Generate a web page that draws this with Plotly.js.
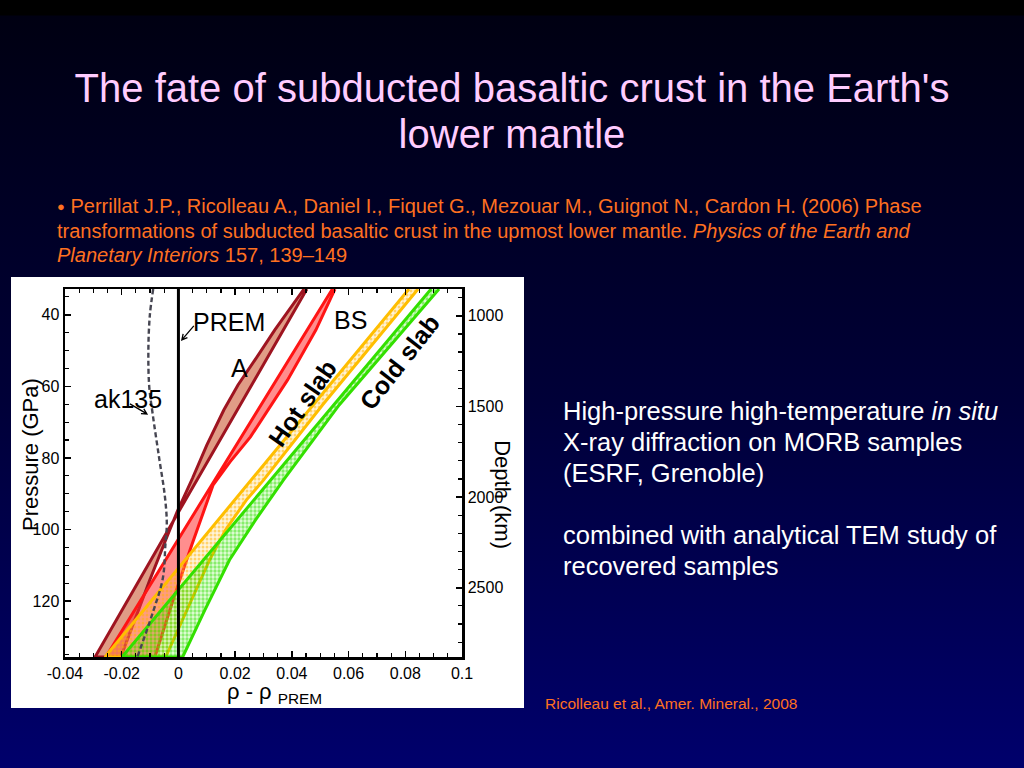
<!DOCTYPE html>
<html>
<head>
<meta charset="utf-8">
<script src="https://cdn.plot.ly/plotly-3.0.1.min.js"></script>
<style>
html,body{margin:0;padding:0;width:1024px;height:768px;overflow:hidden;}
body{position:relative;font-family:"Liberation Sans",Arial,sans-serif;
 background:linear-gradient(to bottom,#000000 0px,#000000 15px,#000012 16px,#000038 400px,#00006c 768px);}
#title{position:absolute;left:0;top:65px;width:1024px;text-align:center;color:#ffccff;font-size:40px;line-height:46px;}
#ref{position:absolute;left:57px;top:194px;color:#ff7020;font-size:20px;line-height:24px;white-space:nowrap;}
#ref .b{font-size:13px;vertical-align:2px;}
#panel{position:absolute;left:11px;top:277px;width:513px;height:431px;background:#ffffff;}
#side{position:absolute;left:563px;top:396px;color:#ffffff;font-size:25.5px;line-height:31px;white-space:nowrap;}
#credit{position:absolute;left:545px;top:695px;color:#ff7020;font-size:15.5px;line-height:18px;white-space:nowrap;}
</style>
</head>
<body>
<div id="title">The fate of subducted basaltic crust in the Earth's<br>lower mantle</div>
<div id="ref"><span class="b">&#9679;</span> Perrillat J.P., Ricolleau A., Daniel I., Fiquet G., Mezouar M., Guignot N., Cardon H. (2006) Phase<br>transformations of subducted basaltic crust in the upmost lower mantle. <i>Physics of the Earth and</i><br><i>Planetary Interiors</i> 157, 139&#8211;149</div>
<div id="panel"></div>
<div id="side">High-pressure high-temperature <i>in situ</i><br>X-ray diffraction on MORB samples<br>(ESRF, Grenoble)<br>&nbsp;<br>combined with analytical TEM study of<br>recovered samples</div>
<div id="credit">Ricolleau et al., Amer. Mineral., 2008</div>
<script>
// ---- axis ticks ----
const xTickVals = [-0.04, -0.02, 0, 0.02, 0.04, 0.06, 0.08, 0.1];
const xTickText = ["-0.04", "-0.02", "0", "0.02", "0.04", "0.06", "0.08", "0.1"];
const pressureTicks = [40, 60, 80, 100, 120];
const depthTicks = [1000, 1500, 2000, 2500];

// ---- assemblage A (two bounding curves: pressure GPa, rho - rhoPREM) ----
const aEdge1P = [32.8, 135.6];
const aEdge1X = [0.0453, -0.0294];
const aEdge2P = [32.8, 44.2, 52.6, 59.6, 66.6, 76.4, 85.6, 95.1, 102.9, 114.1, 135.6];
const aEdge2X = [0.0443, 0.0340, 0.0270, 0.0210, 0.0160, 0.0100, 0.0050, -0.0005, -0.0045, -0.0101, -0.0203];

// ---- assemblage BS ----
const bsEdge1P = [32.8, 135.6];
const bsEdge1X = [0.0543, -0.0256];
const bsEdge2P = [32.8, 44.2, 58.2, 74.1, 81.1, 87.6, 104.3, 118.3, 135.6];
const bsEdge2X = [0.0552, 0.0485, 0.0385, 0.0254, 0.0182, 0.0122, 0.0047, -0.0013, -0.0083];

// ---- hot slab ----
const hotEdge1P = [32.8, 135.6];
const hotEdge1X = [0.0813, -0.0259];
const hotEdge2P = [32.8, 65.2, 76.9, 86.2, 91.7, 100.1, 108.5, 122.5, 135.6];
const hotEdge2X = [0.0845, 0.0508, 0.0392, 0.0300, 0.0240, 0.0166, 0.0110, 0.0029, -0.0045];

// ---- cold slab ----
const coldEdge1P = [32.8, 135.6];
const coldEdge1X = [0.0891, -0.0199];
const coldEdge2P = [32.8, 65.2, 86.2, 97.3, 108.5, 122.5, 135.6];
const coldEdge2X = [0.0919, 0.0567, 0.0370, 0.0272, 0.0180, 0.0093, 0.0015];

// ---- ak135 reference model ----
const ak135P = [32.8, 40.3, 50.0, 60.0, 67.6, 80.0, 90.6, 98.3, 104.3, 113.6, 123.1, 135.6];
const ak135X = [-0.0089, -0.0101, -0.0106, -0.0103, -0.0091, -0.0068, -0.0048, -0.0041, -0.0046, -0.0055, -0.0090, -0.0145];

// ---- PREM ----
const premP = [32.8, 135.6];
const premX = [0, 0];

const X_RANGE = [-0.04, 0.1];
const P_RANGE = [135.6, 32.8];
const PLOT_W = 397, PLOT_H = 368;

function band(p1, x1, p2, x2, lineColor, fillColor, pattern) {
  const t = {
    type: 'scatter', mode: 'lines',
    x: x1.concat(x2.slice().reverse()),
    y: p1.concat(p2.slice().reverse()),
    fill: 'toself', fillcolor: fillColor,
    line: {color: lineColor, width: 3},
    hoverinfo: 'skip', showlegend: false
  };
  if (pattern) t.fillpattern = pattern;
  return t;
}

// small arrow (tail offset given in screen pixels from the head)
function arrowShape(hx, hp, dxPx, dyPx) {
  const sx = (X_RANGE[1] - X_RANGE[0]) / PLOT_W;
  const sp = (P_RANGE[0] - P_RANGE[1]) / PLOT_H;
  const len = Math.hypot(dxPx, dyPx);
  const ux = dxPx / len, uy = dyPx / len;
  const hl = 6, a = 28 * Math.PI / 180;
  const r1 = [ux * Math.cos(a) - uy * Math.sin(a), ux * Math.sin(a) + uy * Math.cos(a)];
  const r2 = [ux * Math.cos(-a) - uy * Math.sin(-a), ux * Math.sin(-a) + uy * Math.cos(-a)];
  const tx = hx + dxPx * sx, tp = hp + dyPx * sp;
  const h1x = hx + r1[0] * hl * sx, h1p = hp + r1[1] * hl * sp;
  const h2x = hx + r2[0] * hl * sx, h2p = hp + r2[1] * hl * sp;
  return {
    type: 'path', xref: 'x', yref: 'y', layer: 'above',
    path: `M ${tx},${tp} L ${hx},${hp} M ${h1x},${h1p} L ${hx},${hp} L ${h2x},${h2p}`,
    line: {color: '#000', width: 1.3}
  };
}

const traces = [
  band(aEdge1P, aEdge1X, aEdge2P, aEdge2X, '#9e1420', 'rgba(205,95,60,0.62)'),
  band(bsEdge1P, bsEdge1X, bsEdge2P, bsEdge2X, '#ff1414', 'rgba(255,50,50,0.55)'),
  band(hotEdge1P, hotEdge1X, hotEdge2P, hotEdge2X, '#ffbe00', 'rgba(255,200,90,0.22)',
       {shape: '.', fgcolor: '#ffb400', size: 4, solidity: 0.45, fillmode: 'overlay'}),
  band(coldEdge1P, coldEdge1X, coldEdge2P, coldEdge2X, '#33e000', 'rgba(60,230,0,0.15)',
       {shape: '.', fgcolor: '#2ee000', size: 4, solidity: 0.55, fillmode: 'overlay'}),
  {type: 'scatter', mode: 'lines', x: ak135X, y: ak135P, line: {color: '#464652', width: 2.4, dash: '5px,3px', shape: 'spline'}, hoverinfo: 'skip', showlegend: false},
  {type: 'scatter', mode: 'lines', x: premX, y: premP, line: {color: '#000000', width: 3}, hoverinfo: 'skip', showlegend: false},
  {type: 'scatter', mode: 'lines', x: [null], y: [null], yaxis: 'y2', hoverinfo: 'skip', showlegend: false}
];

const FAM = 'Liberation Sans, Arial, sans-serif';
const tickFont = {family: FAM, size: 16, color: '#000'};
const lblFont = {family: FAM, size: 25, color: '#000'};

const layout = {
  width: 513, height: 431,
  margin: {l: 54, r: 62, t: 12, b: 51},
  paper_bgcolor: '#ffffff', plot_bgcolor: '#ffffff',
  showlegend: false,
  xaxis: {
    range: X_RANGE, tickvals: xTickVals, ticktext: xTickText,
    ticks: 'inside', ticklen: 6, tickwidth: 1.5, tickcolor: '#000',
    minor: {dtick: 0.005, tick0: 0, ticks: 'inside', ticklen: 4, tickwidth: 1.2, tickcolor: '#000'},
    showline: true, linewidth: 2.5, linecolor: '#000', mirror: 'ticks',
    showgrid: false, zeroline: false, tickfont: tickFont
  },
  yaxis: {
    range: P_RANGE, tickvals: pressureTicks,
    ticks: 'inside', ticklen: 6, tickwidth: 1.5, tickcolor: '#000',
    minor: {dtick: 5, tick0: 0, ticks: 'inside', ticklen: 4, tickwidth: 1.2, tickcolor: '#000'},
    showline: true, linewidth: 2.5, linecolor: '#000',
    showgrid: false, zeroline: false, tickfont: tickFont
  },
  yaxis2: {
    overlaying: 'y', side: 'right', range: [2882, 852], tickvals: depthTicks,
    ticks: 'inside', ticklen: 6, tickwidth: 1.5, tickcolor: '#000',
    minor: {dtick: 100, tick0: 0, ticks: 'inside', ticklen: 4, tickwidth: 1.2, tickcolor: '#000'},
    showline: true, linewidth: 2.5, linecolor: '#000',
    showgrid: false, zeroline: false, tickfont: tickFont
  },
  shapes: [
    arrowShape(0.0012, 47.0, 12, -14),
    arrowShape(-0.0111, 67.7, -17, -10)
  ],
  annotations: [
    {x: 0.0177, y: 41.9, xref: 'x', yref: 'y', text: 'PREM', showarrow: false, font: lblFont, xanchor: 'center', yanchor: 'middle'},
    {x: 0.0216, y: 54.8, xref: 'x', yref: 'y', text: 'A', showarrow: false, font: lblFont, xanchor: 'center', yanchor: 'middle'},
    {x: 0.0606, y: 41.4, xref: 'x', yref: 'y', text: 'BS', showarrow: false, font: lblFont, xanchor: 'center', yanchor: 'middle'},
    {x: -0.0178, y: 63.5, xref: 'x', yref: 'y', text: 'ak135', showarrow: false, font: lblFont, xanchor: 'center', yanchor: 'middle'},
    {x: 0.0437, y: 64.6, xref: 'x', yref: 'y', text: '<b>Hot slab</b>', showarrow: false, textangle: -55, font: {family: FAM, size: 25, color: '#000'}, xanchor: 'center', yanchor: 'middle'},
    {x: 0.0779, y: 53.1, xref: 'x', yref: 'y', text: '<b>Cold slab</b>', showarrow: false, textangle: -52, font: {family: FAM, size: 25, color: '#000'}, xanchor: 'center', yanchor: 'middle'},
    {x: -0.0856, y: 0.549, xref: 'paper', yref: 'paper', text: 'Pressure (GPa)', showarrow: false, textangle: -90, font: {family: FAM, size: 22, color: '#000'}, xanchor: 'center', yanchor: 'middle'},
    {x: 1.103, y: 0.44, xref: 'paper', yref: 'paper', text: 'Depth (km)', showarrow: false, textangle: 90, font: {family: FAM, size: 22, color: '#000'}, xanchor: 'center', yanchor: 'middle'},
    {x: 0.527, y: -0.098, xref: 'paper', yref: 'paper', text: '\u03c1 - \u03c1 <sub>PREM</sub>', showarrow: false, font: {family: FAM, size: 22, color: '#000'}, xanchor: 'center', yanchor: 'middle'}
  ]
};

Plotly.newPlot('panel', traces, layout, {displayModeBar: false, staticPlot: true});
</script>
</body>
</html>
